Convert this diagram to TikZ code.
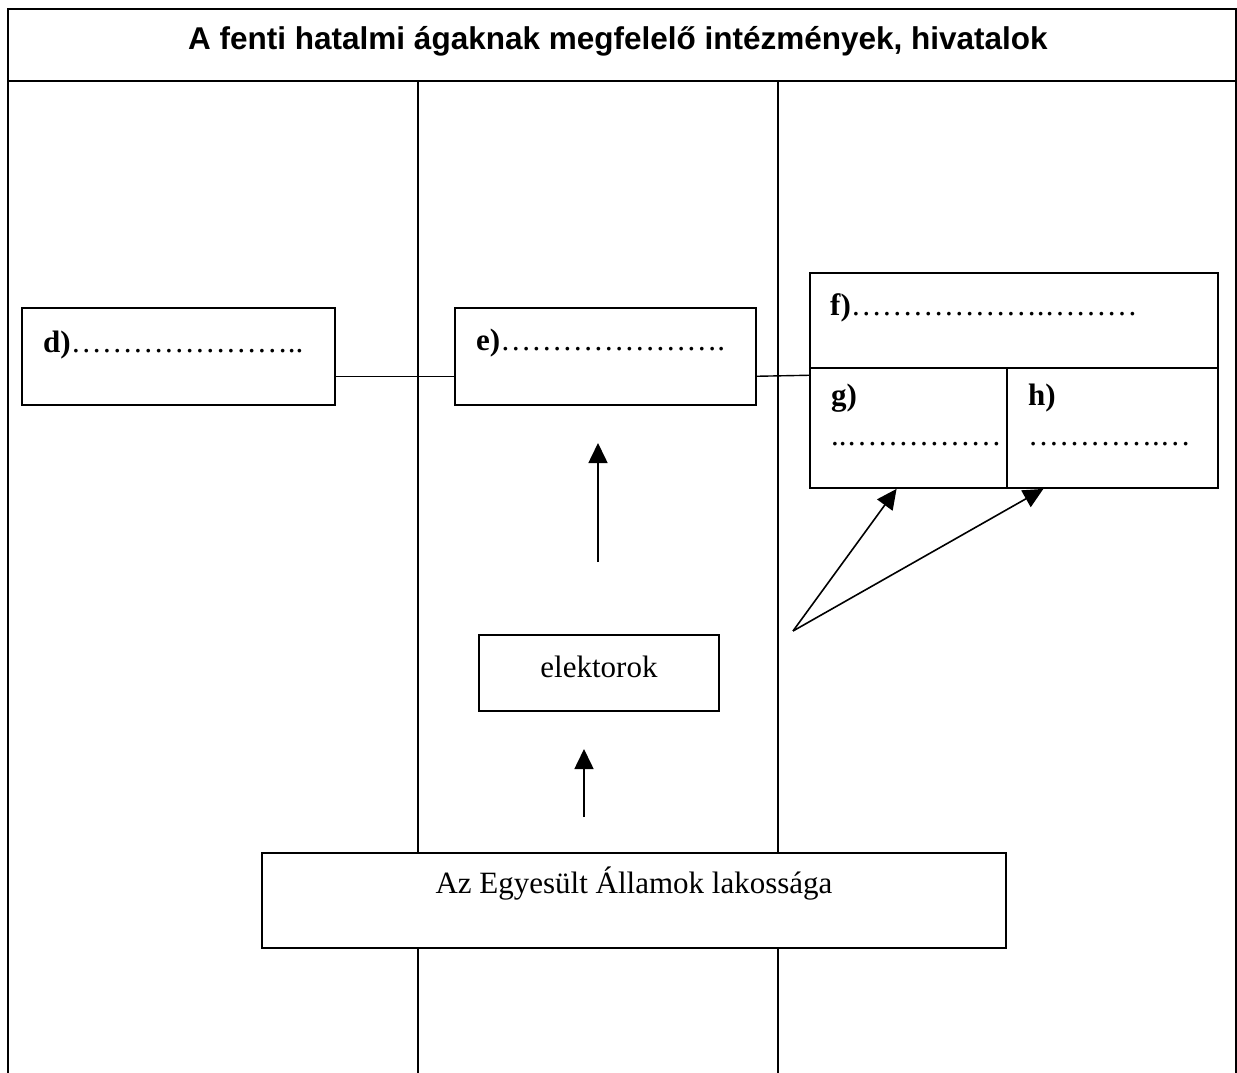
\documentclass[tikz,border=0pt]{standalone}
\usepackage{fontspec}
\setmainfont{Liberation Serif}
\newfontfamily\hdrfont{Liberation Sans}
\usetikzlibrary{arrows.meta,calc}
\newcommand\trd{…}
\begin{document}
\begin{tikzpicture}[x=1pt,y=-1pt,
  frame/.style={line width=2.2pt},
  box/.style={draw,line width=1.8pt,fill=white,inner sep=0pt,rectangle},
  conn/.style={line width=1.4pt},
  arr/.style={line width=1.6pt,-{Triangle[width=19pt,length=20pt]}},
  lbl/.style={anchor=base west,inner sep=0pt,font=\fontsize{31}{36}\selectfont},
  ctr/.style={anchor=base,inner sep=0pt,font=\fontsize{31}{36}\selectfont}]
\useasboundingbox (0,0) rectangle (1237,1073);
% table frame
\draw[frame] (8,1073) -- (8,9) -- (1236,9) -- (1236,1073);
\draw[frame] (8,81) -- (1236,81);
\draw[frame] (418,81) -- (418,1073);
\draw[frame] (778,81) -- (778,1073);
\node[anchor=base,inner sep=0pt,font=\hdrfont\bfseries\fontsize{31.5}{36}\selectfont] (title) at (618,49) {A fenti hatalmi ágaknak megfelelő intézmények, hivatalok};
% boxes
\node[box,minimum width=313pt,minimum height=97pt] (d) at (178.5,356.5) {};
\node[box,minimum width=301pt,minimum height=97pt] (e) at (605.5,356.5) {};
\node[box,minimum width=408pt,minimum height=95pt] (f) at (1014,320.5) {};
\node[box,minimum width=197pt,minimum height=120pt] (g) at (908.5,428) {};
\node[box,minimum width=211pt,minimum height=120pt] (h) at (1112.5,428) {};
\node[box,minimum width=240pt,minimum height=76pt] (el) at (599,673) {};
\node[box,minimum width=744pt,minimum height=95pt] (pop) at (634,900.5) {};
% texts
\node[lbl] (dt) at (43,352) {\textbf{d)}\trd\trd\trd\trd\trd\trd\trd..};
\node[lbl] (et) at (476,350) {\textbf{e)}\trd\trd\trd\trd\trd\trd\trd.};
\node[lbl] (ft) at (830,315) {\textbf{f)}\trd\trd\trd\trd\trd\trd.\trd\trd\trd};
\node[lbl] (gt) at (831,405) {\textbf{g)}};
\node[lbl] (gd) at (831,445) {..\trd\trd\trd\trd\trd};
\node[lbl] (ht) at (1028,405) {\textbf{h)}};
\node[lbl] (hd) at (1028,445) {\trd\trd\trd\trd.\trd};
\node[ctr] (elt) at (599,677) {elektorok};
\node[ctr] (popt) at (634,893) {Az Egyesült Államok lakossága};
% connectors
\draw[conn] ($(d.south east)!0.3!(d.north east)$) -- ($(e.south west)!0.3!(e.north west)$);
\draw[conn] ($(e.south east)!0.3!(e.north east)$) -- ($(g.north west)!0.067!(g.south west)$);
% arrows
\coordinate (a1s) at (598,562);
\coordinate (a1e) at (598,443);
\coordinate (a2s) at (584,817);
\coordinate (a2e) at (584,749);
\draw[arr] (a1s) -- (a1e);
\draw[arr] (a2s) -- (a2e);
\coordinate (src) at (793,631);
\draw[arr] (src) -- ($(g.south west)!0.44!(g.south east)$);
\draw[arr] (src) -- ($(h.south west)!0.175!(h.south east)$);
\end{tikzpicture}
\end{document}
